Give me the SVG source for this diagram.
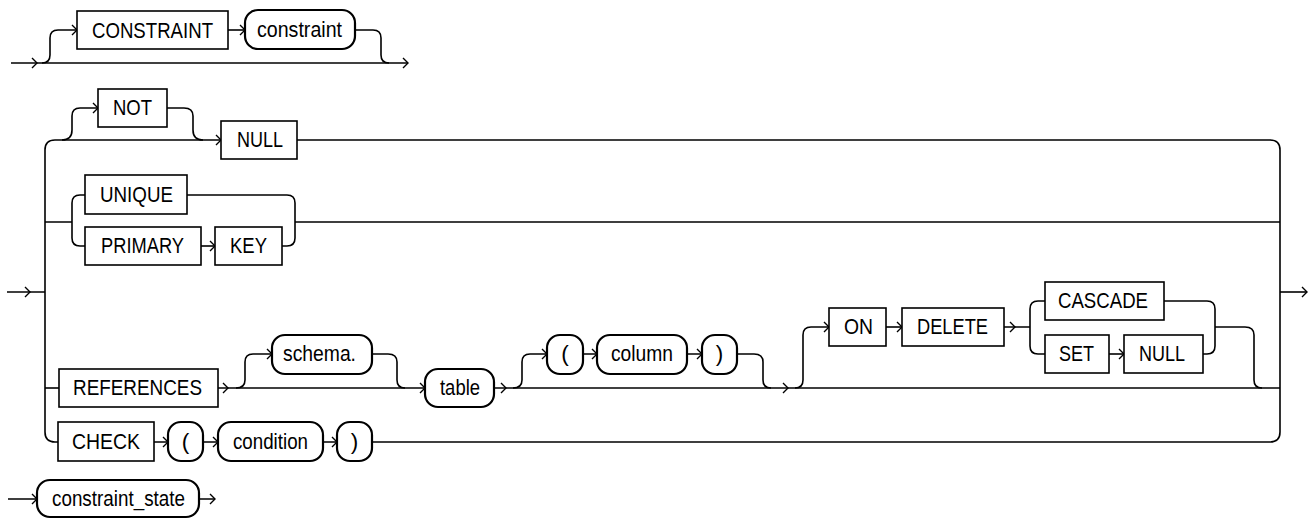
<svg xmlns="http://www.w3.org/2000/svg" xmlns:xlink="http://www.w3.org/1999/xlink" width="1310" height="519" viewBox="0 0 1310 519">
<style>
.ln{fill:none;stroke:#000;stroke-width:1.6}
.bx{fill:#fff;stroke:#000;stroke-width:1.6}
.ov{fill:#fff;stroke:#000;stroke-width:2.2}
.ah{fill:none;stroke:#000;stroke-width:1.4}
text{font-family:"Liberation Sans",Arial,sans-serif;font-size:22.5px;fill:#000;text-anchor:middle}
</style>
<defs>
<path id="a" class="ah" d="M-5,-5 L0,0 L-5,5"/>
</defs>
<g id="connectors">
<path class="ln" d="M11,63 H408"/>
<path class="ln" d="M42,63 Q50,63 50,55 V38 Q50,30 58,30 H77"/>
<path class="ln" d="M228,30 H245"/>
<path class="ln" d="M355,30 H373 Q381,30 381,38 V55 Q381,63 389,63"/>
<use xlink:href="#a" x="37" y="63"/>
<use xlink:href="#a" x="77" y="30"/>
<use xlink:href="#a" x="245" y="30"/>
<use xlink:href="#a" x="408" y="63"/>
<path class="ln" d="M7,292 H45"/>
<use xlink:href="#a" x="30" y="292"/>
<path class="ln" d="M55,140 Q45,140 45,150 V432 Q45,442 55,442 H58"/>
<path class="ln" d="M55,140 H221"/>
<use xlink:href="#a" x="221" y="140"/>
<path class="ln" d="M62,140 Q72,140 72,130 V116 Q72,108 80,108 H98"/>
<use xlink:href="#a" x="98" y="108"/>
<path class="ln" d="M167,108 H184 Q193,108 193,116 V130 Q193,140 203,140"/>
<path class="ln" d="M297,140 H1270 Q1280,140 1280,150 V432 Q1280,442 1270,442 H372"/>
<path class="ln" d="M1280,292 H1307"/>
<use xlink:href="#a" x="1307" y="292"/>
<path class="ln" d="M45,222 H72 M72,222 V203 Q72,195 80,195 H85 M72,222 V238 Q72,246 80,246 H85"/>
<path class="ln" d="M187,195 H287 Q295,195 295,203 V238 Q295,246 287,246 H282 M295,222 H1280"/>
<path class="ln" d="M201,246 H215"/>
<use xlink:href="#a" x="215" y="246"/>
<path class="ln" d="M45,388 H59"/>
<path class="ln" d="M218,388 H1280"/>
<use xlink:href="#a" x="228" y="388"/>
<path class="ln" d="M236,388 Q245,388 245,380 V362 Q245,354 253,354 H272"/>
<use xlink:href="#a" x="272" y="354"/>
<path class="ln" d="M372,354 H388 Q397,354 397,362 V380 Q397,388 405,388"/>
<use xlink:href="#a" x="425" y="388"/>
<use xlink:href="#a" x="506" y="388"/>
<path class="ln" d="M513,388 Q522,388 522,380 V362 Q522,354 530,354 H547"/>
<use xlink:href="#a" x="547" y="354"/>
<path class="ln" d="M583,354 H597 M687,354 H702"/>
<use xlink:href="#a" x="597" y="354"/>
<use xlink:href="#a" x="702" y="354"/>
<path class="ln" d="M737,354 H754 Q763,354 763,362 V380 Q763,388 771,388"/>
<use xlink:href="#a" x="788" y="388"/>
<path class="ln" d="M795,388 Q803,388 803,380 V335 Q803,327 811,327 H829"/>
<use xlink:href="#a" x="829" y="327"/>
<path class="ln" d="M886,327 H902"/>
<use xlink:href="#a" x="902" y="327"/>
<path class="ln" d="M1004,327 H1030 M1030,327 V309 Q1030,301 1038,301 H1045 M1030,327 V346 Q1030,354 1038,354 H1045"/>
<use xlink:href="#a" x="1015" y="327"/>
<path class="ln" d="M1109,354 H1124"/>
<use xlink:href="#a" x="1124" y="354"/>
<path class="ln" d="M1164,301 H1207 Q1215,301 1215,309 V346 Q1215,354 1207,354 H1203 M1215,327 H1245 Q1254,327 1254,335 V380 Q1254,388 1262,388"/>
<path class="ln" d="M154,442 H168 M203,442 H218 M323,442 H337"/>
<use xlink:href="#a" x="168" y="442"/>
<use xlink:href="#a" x="218" y="442"/>
<use xlink:href="#a" x="337" y="442"/>
<path class="ln" d="M8,499 H37 M199,499 H215"/>
<use xlink:href="#a" x="37" y="499"/>
<use xlink:href="#a" x="215" y="499"/>
</g>
<g id="n-constraint-kw"><rect class="bx" x="77" y="11" width="151" height="38"/><text x="152.5" y="37.5" textLength="121" lengthAdjust="spacingAndGlyphs">CONSTRAINT</text></g>
<g id="n-constraint"><rect class="ov" x="245" y="10" width="110" height="39" rx="13"/><text x="299.5" y="37" textLength="85" lengthAdjust="spacingAndGlyphs">constraint</text></g>
<g id="n-not"><rect class="bx" x="98" y="89" width="69" height="38"/><text x="132.5" y="115" textLength="39" lengthAdjust="spacingAndGlyphs">NOT</text></g>
<g id="n-null"><rect class="bx" x="221" y="121" width="76" height="38"/><text x="260" y="147" textLength="46" lengthAdjust="spacingAndGlyphs">NULL</text></g>
<g id="n-unique"><rect class="bx" x="85" y="175" width="102" height="39"/><text x="136.5" y="202" textLength="73" lengthAdjust="spacingAndGlyphs">UNIQUE</text></g>
<g id="n-primary"><rect class="bx" x="85" y="227" width="116" height="38"/><text x="142.5" y="253" textLength="83" lengthAdjust="spacingAndGlyphs">PRIMARY</text></g>
<g id="n-key"><rect class="bx" x="215" y="227" width="67" height="38"/><text x="248.5" y="253" textLength="37" lengthAdjust="spacingAndGlyphs">KEY</text></g>
<g id="n-references"><rect class="bx" x="59" y="369" width="159" height="38"/><text x="137.5" y="395" textLength="129" lengthAdjust="spacingAndGlyphs">REFERENCES</text></g>
<g id="n-schema"><rect class="ov" x="272" y="335" width="100" height="39" rx="13"/><text x="319.5" y="361" textLength="73" lengthAdjust="spacingAndGlyphs">schema.</text></g>
<g id="n-table"><rect class="ov" x="425" y="369" width="69" height="38" rx="13"/><text x="460" y="395" textLength="40" lengthAdjust="spacingAndGlyphs">table</text></g>
<g id="n-lparen1"><rect class="ov" x="547" y="335" width="36" height="39" rx="13"/><text x="565" y="361">(</text></g>
<g id="n-column"><rect class="ov" x="597" y="335" width="90" height="39" rx="13"/><text x="642" y="361" textLength="62" lengthAdjust="spacingAndGlyphs">column</text></g>
<g id="n-rparen1"><rect class="ov" x="702" y="335" width="35" height="39" rx="13"/><text x="719.5" y="361">)</text></g>
<g id="n-on"><rect class="bx" x="829" y="308" width="57" height="38"/><text x="858.5" y="334" textLength="29" lengthAdjust="spacingAndGlyphs">ON</text></g>
<g id="n-delete"><rect class="bx" x="902" y="308" width="102" height="38"/><text x="952.5" y="334" textLength="71" lengthAdjust="spacingAndGlyphs">DELETE</text></g>
<g id="n-cascade"><rect class="bx" x="1045" y="282" width="119" height="38"/><text x="1103" y="308" textLength="90" lengthAdjust="spacingAndGlyphs">CASCADE</text></g>
<g id="n-set"><rect class="bx" x="1045" y="335" width="64" height="38"/><text x="1076.5" y="361" textLength="35" lengthAdjust="spacingAndGlyphs">SET</text></g>
<g id="n-null2"><rect class="bx" x="1124" y="335" width="79" height="38"/><text x="1162" y="361" textLength="46" lengthAdjust="spacingAndGlyphs">NULL</text></g>
<g id="n-check"><rect class="bx" x="58" y="422" width="96" height="39"/><text x="106" y="449" textLength="68" lengthAdjust="spacingAndGlyphs">CHECK</text></g>
<g id="n-lparen2"><rect class="ov" x="168" y="422" width="35" height="39" rx="13"/><text x="185.5" y="449">(</text></g>
<g id="n-condition"><rect class="ov" x="218" y="422" width="105" height="39" rx="13"/><text x="270.5" y="449" textLength="75" lengthAdjust="spacingAndGlyphs">condition</text></g>
<g id="n-rparen2"><rect class="ov" x="337" y="422" width="35" height="39" rx="13"/><text x="354.5" y="449">)</text></g>
<g id="n-constraint-state"><rect class="ov" x="37" y="480" width="162" height="37" rx="13"/><text x="118.5" y="506" textLength="133" lengthAdjust="spacingAndGlyphs">constraint_state</text></g>
</svg>
